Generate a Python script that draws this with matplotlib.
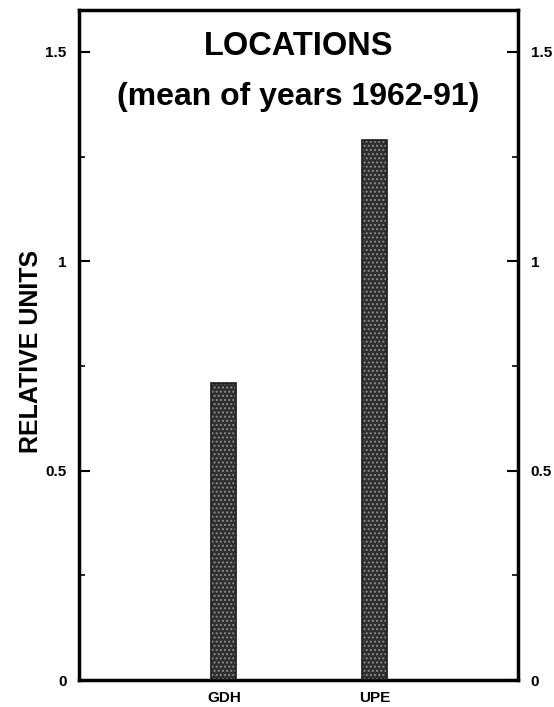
import numpy as np
import matplotlib.pyplot as plt
from matplotlib.ticker import MultipleLocator

# locations and mean relative values (1962-91)
locations = ["GDH", "UPE"]
values = [0.71, 1.29]
yticks = [0, 0.5, 1, 1.5]
ytick_labels = ["0", "0.5", "1", "1.5"]

plt.rcParams['font.family'] = ['Liberation Sans', 'DejaVu Sans']

fig = plt.figure(figsize=(5.54, 7.07), dpi=100)
ax = fig.add_axes([79/554, 1-680/707, (518-79)/554, (680-10)/707])

x = np.arange(len(locations))
ax.bar(x, values, width=0.165, color='#2e2e2e', edgecolor='#8a8a8a',
       hatch='....', linewidth=0, zorder=2)
ax.bar(x, values, width=0.165, fill=False, edgecolor='#1a1a1a', linewidth=1.2, zorder=3)

ax.set_xlim(-0.96, 1.95)
ax.set_ylim(0, 1.6)
ax.set_xticks(x)
ax.set_xticklabels(locations, fontsize=11, fontweight='bold')
ax.set_yticks(yticks)
ax.set_yticklabels(ytick_labels, fontsize=11, fontweight='bold')
ax.yaxis.set_minor_locator(MultipleLocator(0.25))
ax.tick_params(axis='y', which='major', direction='in', length=8, width=1.5,
               left=True, right=True, labelleft=True, labelright=True, pad=9)
ax.tick_params(axis='y', which='minor', direction='in', length=4, width=1.2,
               left=True, right=True)
ax.tick_params(axis='x', length=0, pad=8)
for s in ax.spines.values():
    s.set_linewidth(2.5)

ax.set_ylabel("RELATIVE UNITS", fontsize=18, fontweight='bold')
ax.yaxis.set_label_coords(-36/439, 0.49)
ax.text(0.5, 0.945, "LOCATIONS", transform=ax.transAxes, ha='center', va='center',
        fontsize=23.5, fontweight='bold')
ax.text(0.5, 0.87, "(mean of years 1962-91)", transform=ax.transAxes, ha='center',
        va='center', fontsize=23, fontweight='bold')

fig.savefig("out.png", dpi=100)
